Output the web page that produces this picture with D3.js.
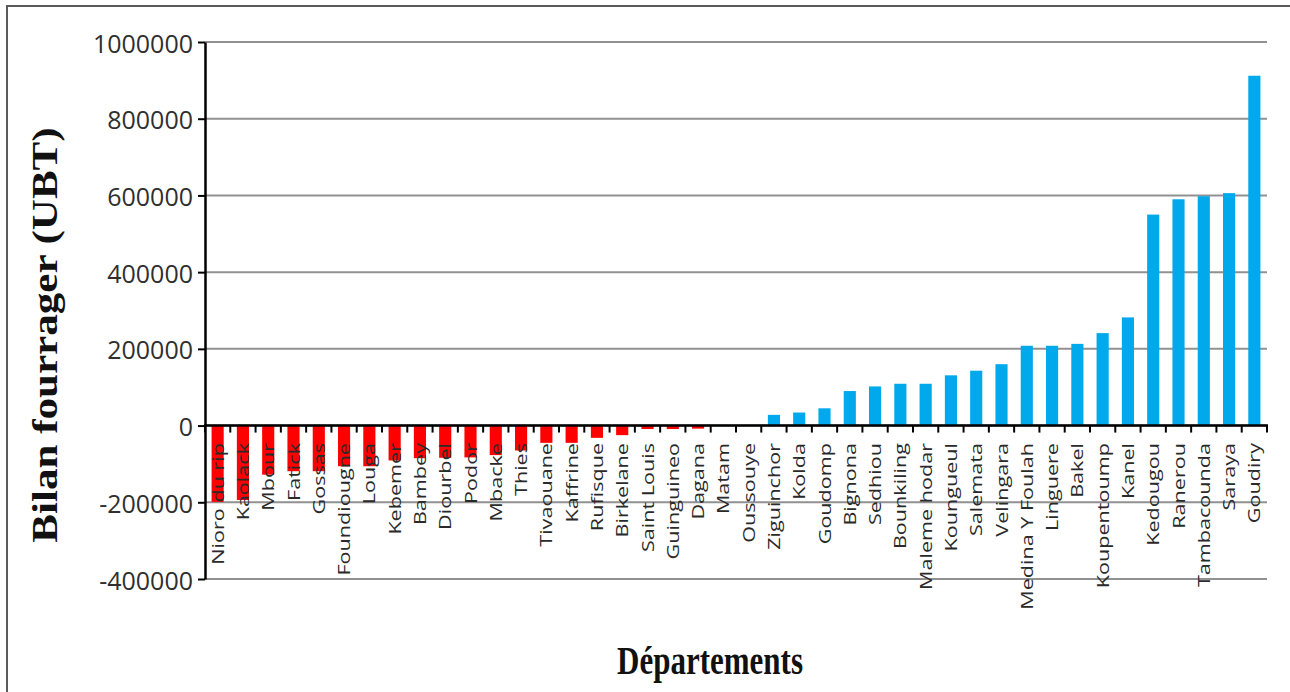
<!DOCTYPE html>
<html>
<head>
<meta charset="utf-8">
<script src="https://cdn.jsdelivr.net/npm/d3@7"></script>
<style>
  html, body { margin: 0; padding: 0; background: #fff; }
  svg { display: block; }
</style>
</head>
<body>
<svg id="chart" width="1290" height="692"></svg>
<script>
// Bilan fourrager par département (UBT)
const departements = [
  "Nioro du rip", "Kaolack", "Mbour", "Fatick", "Gossas", "Foundiougne", "Louga",
  "Kebemer", "Bambey", "Diourbel", "Podor", "Mbacke", "Thies", "Tivaouane",
  "Kaffrine", "Rufisque", "Birkelane", "Saint Louis", "Guinguineo", "Dagana",
  "Matam", "Oussouye", "Ziguinchor", "Kolda", "Goudomp", "Bignona", "Sedhiou",
  "Bounkiling", "Maleme hodar", "Koungueul", "Salemata", "Velingara",
  "Medina Y Foulah", "Linguere", "Bakel", "Koupentoump", "Kanel", "Kedougou",
  "Ranerou", "Tambacounda", "Saraya", "Goudiry"
];
const bilan = [
  -199000, -194000, -128000, -119000, -119000, -106000, -106000,
  -91000, -85000, -84000, -83000, -77000, -65000, -45000,
  -45000, -32000, -25000, -9000, -9000, -8000,
  -1000, 1000, 28000, 34000, 45000, 90000, 102000,
  109000, 109000, 131000, 143000, 160000,
  208000, 208000, 213000, 241000, 282000, 550000,
  590000, 598000, 606000, 912000
];
const yTicks = [-400000, -200000, 0, 200000, 400000, 600000, 800000, 1000000];

const svg = d3.select("#chart");
const W = 1290, H = 692;
const stretch = 1.27;

svg.append("rect").attr("width", W).attr("height", H).attr("fill", "#fff");

// outer frame (top and left edges)
svg.append("path")
  .attr("d", `M7,${H} L7,6 L${W},6`)
  .attr("fill", "none").attr("stroke", "#5a5a5a").attr("stroke-width", 2);

const x = d3.scaleBand().domain(departements).range([205, 1267])
  .paddingInner(0.52).paddingOuter(0.26);
const y = d3.scaleLinear().domain([-400000, 1000000]).range([579, 42]);

// gridlines
svg.append("g").selectAll("line").data(yTicks).join("line")
  .attr("x1", 205).attr("x2", 1267)
  .attr("y1", d => y(d)).attr("y2", d => y(d))
  .attr("stroke", "#919191").attr("stroke-width", 2);

// bars
svg.append("g").selectAll("rect").data(departements).join("rect")
  .attr("x", d => x(d))
  .attr("width", x.bandwidth())
  .attr("y", (d, i) => y(Math.max(0, bilan[i])))
  .attr("height", (d, i) => Math.abs(y(bilan[i]) - y(0)))
  .attr("fill", (d, i) => bilan[i] < 0 ? "#ff0000" : "#00a8ec");

// y axis
const yAxis = svg.append("g").attr("transform", "translate(205,0)")
  .call(d3.axisLeft(y).tickValues(yTicks).tickFormat(d => String(d)).tickSize(7).tickSizeOuter(0));
yAxis.select(".domain").attr("stroke", "#000").attr("stroke-width", 2.5);
yAxis.selectAll(".tick line").attr("stroke", "#000").attr("stroke-width", 2);
yAxis.selectAll(".tick text")
  .attr("font-family", "'Open Sans', sans-serif").attr("font-size", 25)
  .attr("fill", "#2f2f2f").attr("x", -12).attr("dy", null)
  .attr("dominant-baseline", "central");

// x axis (zero line) with ticks at category boundaries
const step = x.step();
const bounds = departements.map(d => x(d) - (step - x.bandwidth()) / 2);
bounds.push(bounds[bounds.length - 1] + step);
svg.append("g").selectAll("line").data(bounds).join("line")
  .attr("x1", d => d).attr("x2", d => d)
  .attr("y1", y(0)).attr("y2", y(0) + 7)
  .attr("stroke", "#000").attr("stroke-width", 2);
svg.append("line")
  .attr("x1", 204).attr("x2", 1268).attr("y1", y(0)).attr("y2", y(0))
  .attr("stroke", "#000").attr("stroke-width", 2.5);

// category labels, rotated
const labels = svg.append("g").selectAll("text").data(departements).join("text")
  .attr("transform", d => `translate(${x(d) + x.bandwidth() / 2 + 6},443) rotate(-90)`)
  .attr("text-anchor", "end")
  .attr("font-family", "'Open Sans', sans-serif").attr("font-size", 17)
  .attr("fill", "#2a2a2a")
  .text(d => d);
labels.each(function () {
  const len = this.getComputedTextLength();
  d3.select(this).attr("textLength", len * stretch).attr("lengthAdjust", "spacingAndGlyphs");
});

// axis titles
const yTitle = svg.append("text")
  .attr("transform", "translate(57,335) rotate(-90)")
  .attr("text-anchor", "middle")
  .attr("font-family", "'Liberation Serif', 'Times New Roman', serif")
  .attr("font-weight", "bold").attr("font-size", 35).attr("fill", "#111")
  .text("Bilan fourrager (UBT)");
yTitle.each(function () {
  const len = this.getComputedTextLength();
  d3.select(this).attr("textLength", len * 1.23).attr("lengthAdjust", "spacingAndGlyphs");
});

svg.append("text")
  .attr("transform", `translate(710,674) scale(1,${stretch})`)
  .attr("text-anchor", "middle")
  .attr("font-family", "'Liberation Serif', 'Times New Roman', serif")
  .attr("font-weight", "bold").attr("font-size", 31).attr("fill", "#111")
  .text("Départements");
</script>
</body>
</html>
